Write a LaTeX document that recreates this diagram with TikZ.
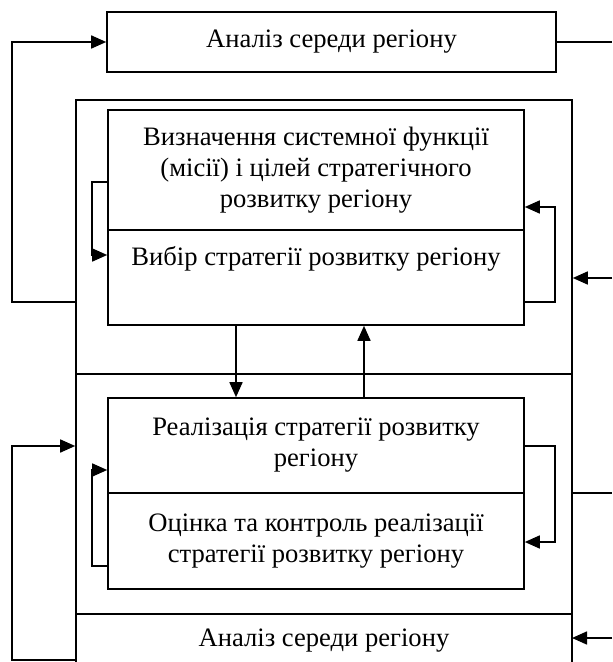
\documentclass[tikz,border=0pt]{standalone}
\usepackage{fontspec}
\setmainfont{Liberation Serif}
\usetikzlibrary{calc,arrows.meta}
\tikzset{
  blk/.style={draw,inner sep=0pt,minimum width=208pt,align=center},
  arr/.style={-{Triangle[length=7.5pt,width=6.5pt]}},
}

\begin{document}
\begin{tikzpicture}[x=0.5pt,y=-0.5pt,line width=0.8pt,font=\fontsize{13.3}{15.5}\selectfont]
            \useasboundingbox (0,0) rectangle (612,662);
            \node[blk,minimum width=224.5pt,minimum height=30pt] (top) at (331.5,42) {Аналіз середи регіону};
            \node[blk,minimum width=248pt,minimum height=137pt] (upper) at (324,237) {};
            \node[blk,minimum width=248pt,minimum height=120pt] (lower) at (324,494) {};
            \node[inner sep=0pt,outer sep=0pt,minimum width=248pt,minimum height=24pt] (env) at (324,638) {};
            \node (envt) at (324,641) {Аналіз середи регіону};
            \draw (env.north west) -- (env.south west) (env.north east) -- (env.south east);
            \node[blk,minimum height=60pt] (mis) at (316,170) {Визначення системної функції\\(місії) і цілей стратегічного\\розвитку регіону};
            \node[blk,minimum height=47.5pt] (vyb) at (316,277.5) {};
            \node (vybt) at (316,259) {Вибір стратегії розвитку регіону};
            \node[blk,minimum height=47.5pt] (real) at (316,445.5) {Реалізація стратегії розвитку\\регіону};
            \node[blk,minimum height=48pt] (ocin) at (316,541) {Оцінка та контроль реалізації\\стратегії розвитку регіону};
            \coordinate (R) at (612,0);
            \coordinate (l1) at (12,302);
            \coordinate (l2) at (12,660);
            \coordinate (l3) at (12,446);
            \coordinate (r1) at (612,278);
            \coordinate (r2) at (612,493);
            \coordinate (r3) at (612,638);
            \coordinate (a1) at (92,182);
            \coordinate (a2) at (92,255);
            \coordinate (a3) at (92,566);
            \coordinate (a4) at (92,470);
            \coordinate (b1) at (555,302);
            \coordinate (b2) at (555,207);
            \coordinate (b3) at (555,446);
            \coordinate (b4) at (555,542);
            \coordinate (m1) at (236,0);
            \coordinate (m2) at (364,0);
            \draw[arr] (l1 -| upper.west) -- (l1) |- (top.west);
            \draw (top.east) -- (top.east -| R);
            \draw[arr] (r1) -- (r1 -| upper.east);
            \draw[arr] (a1 -| mis.west) -- (a1) -- (a2) -- (a2 -| vyb.west);
            \draw[arr] (b1 -| vyb.east) -- (b1) -- (b2) -- (b2 -| mis.east);
            \draw[arr] (vyb.south -| m1) -- (real.north -| m1);
            \draw[arr] (real.north -| m2) -- (vyb.south -| m2);
            \draw[arr] (a3 -| ocin.west) -- (a3) -- (a4) -- (a4 -| real.west);
            \draw[arr] (b3 -| real.east) -- (b3) -- (b4) -- (b4 -| ocin.east);
            \draw (r2 -| lower.east) -- (r2);
            \draw[arr] (r3) -- (r3 -| env.east);
            \draw[arr] (l2 -| env.west) -- (l2) -- (l3) -- (l3 -| lower.west);
        \end{tikzpicture}
\end{document}
